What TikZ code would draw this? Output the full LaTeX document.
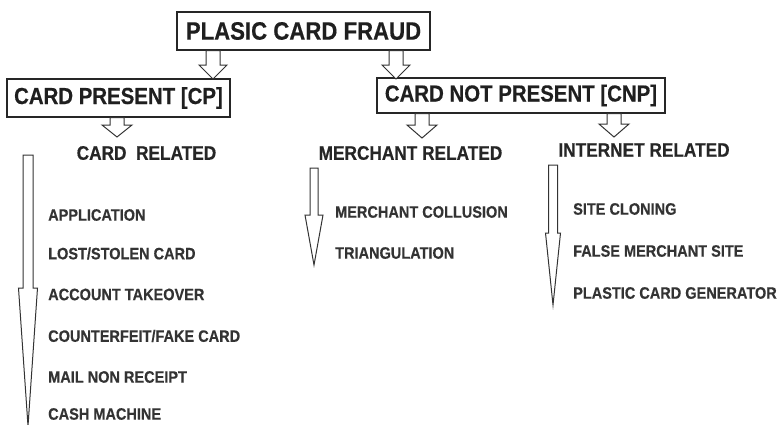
\documentclass[tikz,border=0pt]{standalone}
\usepackage{fontspec}
\newfontfamily\condfont{Liberation Sans Bold}[FakeStretch=0.88,FakeBold=0.4]
\tikzset{
  box/.style={draw=black!85, line width=1.4pt, inner sep=0pt, anchor=center},
  ttl/.style={font=\condfont\fontsize{25.2}{28}\selectfont, text=black!88},
  sub/.style={font=\condfont\fontsize{23.2}{26}\selectfont, text=black!88},
  head/.style={font=\condfont\fontsize{19.6}{22}\selectfont, text=black!85, inner sep=0pt},
  item/.style={font=\condfont\fontsize{16.5}{19}\selectfont, text=black!80, inner sep=0pt, anchor=west},
  arrowline/.style={draw=black!80, line width=1pt, line join=miter, fill=white}
}
% #1 start coordinate name, #2 tip coordinate name, #3 shaft half width, #4 head half width, #5 head length
\newcommand\hollowarrow[5]{%
  \draw[arrowline] ([xshift=-#3]#1) -- ([xshift=-#3,yshift=#5]#2) -- ([xshift=-#4,yshift=#5]#2)
    -- (#2) -- ([xshift=#4,yshift=#5]#2) -- ([xshift=#3,yshift=#5]#2) -- ([xshift=#3]#1) -- cycle;}
\begin{document}
\begin{tikzpicture}[x=1pt,y=-1pt]
\useasboundingbox[fill=white] (0,0) rectangle (783,424);

% boxes
\node[box, ttl, minimum width=253pt, minimum height=38pt] (title) at (303.5,31) {PLASIC CARD FRAUD};
\node[box, sub, minimum width=223pt, minimum height=38pt] (cp) at (118.5,98) {CARD PRESENT [CP]};
\node[box, sub, minimum width=288pt, minimum height=35pt] (cnp) at (521,95.5) {CARD NOT PRESENT [CNP]};

% headings
\node[head] (cardrel) at (146.5,153) {CARD\ \ RELATED};
\node[head] (merrel) at (410.5,153) {MERCHANT RELATED};
\node[head] (intrel) at (644,150) {INTERNET RELATED};

% small hollow arrows
\coordinate (t1) at (213,79);
\coordinate (t2) at (396,79);
\coordinate (c1) at (117,137);
\coordinate (n1) at (422,138);
\coordinate (n2) at (614,137);
\coordinate (t1s) at (title.south -| t1);
\coordinate (t2s) at (title.south -| t2);
\coordinate (c1s) at (cp.south -| c1);
\coordinate (n1s) at (cnp.south -| n1);
\coordinate (n2s) at (cnp.south -| n2);
\hollowarrow{t1s}{t1}{7pt}{14pt}{14pt}
\hollowarrow{t2s}{t2}{7pt}{14pt}{14pt}
\hollowarrow{c1s}{c1}{7pt}{15pt}{12pt}
\hollowarrow{n1s}{n1}{7pt}{15pt}{13pt}
\hollowarrow{n2s}{n2}{7pt}{15pt}{13pt}

% long hollow arrows
\coordinate (cpA) at (28,155);
\coordinate (cpB) at (28,426);
\hollowarrow{cpA}{cpB}{5pt}{9.5pt}{138pt}
\coordinate (meA) at (314,168);
\coordinate (meB) at (314,265);
\hollowarrow{meA}{meB}{4pt}{9pt}{50pt}
\coordinate (inA) at (553,165);
\coordinate (inB) at (553,305);
\hollowarrow{inA}{inB}{4.5pt}{7.5pt}{72pt}

% items
\node[item] (i1) at (48,215) {APPLICATION};
\node[item] (i2) at (48,253.5) {LOST/STOLEN CARD};
\node[item] (i3) at (48,294.5) {ACCOUNT TAKEOVER};
\node[item] (i4) at (48,336) {COUNTERFEIT/FAKE CARD};
\node[item] (i5) at (48,377) {MAIL NON RECEIPT};
\node[item] (i6) at (48,414) {CASH MACHINE};

\node[item] (m1) at (335,212) {MERCHANT COLLUSION};
\node[item] (m2) at (335,253) {TRIANGULATION};

\node[item] (s1) at (573,209) {SITE CLONING};
\node[item] (s2) at (573,251) {FALSE MERCHANT SITE};
\node[item] (s3) at (573,293) {PLASTIC CARD GENERATOR};
\end{tikzpicture}
\end{document}
